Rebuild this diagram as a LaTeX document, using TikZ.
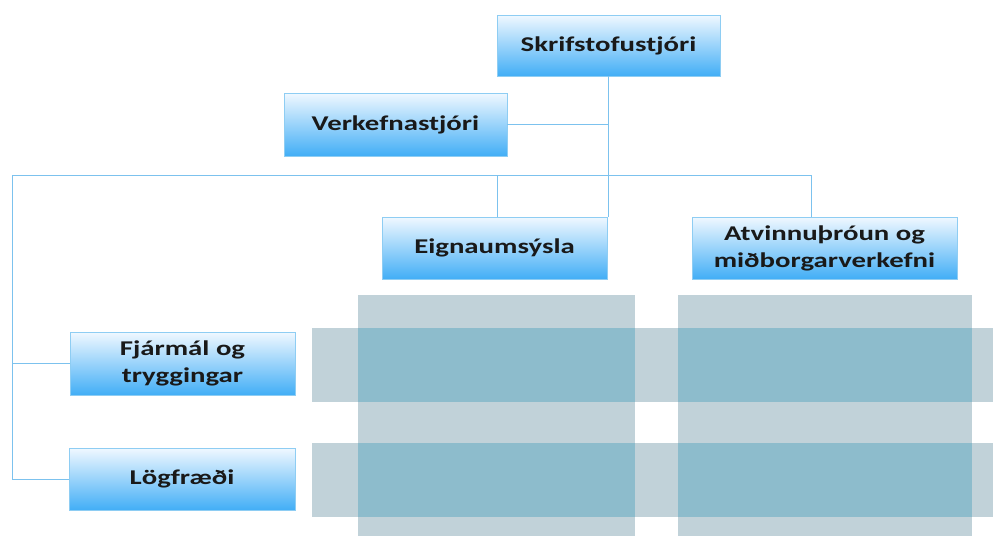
\documentclass[tikz,border=0pt]{standalone}
\usepackage{fontspec}
\setmainfont{Carlito}[FakeStretch=1.37]
\definecolor{boxtop}{HTML}{F0F8FF}
\definecolor{boxbot}{HTML}{42AEF6}
\definecolor{boxline}{HTML}{8ECDF3}
\definecolor{connc}{HTML}{7CC2EE}
\definecolor{lightgrid}{HTML}{C1D2D9}
\definecolor{darkgrid}{HTML}{8DBCCC}
\tikzset{
  box/.style={draw=boxline, line width=0.8pt, top color=boxtop, bottom color=boxbot,
    font=\bfseries\fontsize{21}{27}\selectfont, text=black!90, align=center, inner sep=2pt},
  conn/.style={draw=connc, line width=1pt},
}
\begin{document}
\begin{tikzpicture}[x=1pt,y=-1pt]
\useasboundingbox (0,0) rectangle (993,536);
% background blurred grid
\fill[lightgrid] (358,295) rectangle (635,536);
\fill[lightgrid] (678,295) rectangle (972,536);
\fill[lightgrid] (312,328) rectangle (993,402);
\fill[lightgrid] (312,443) rectangle (993,517);
\fill[darkgrid] (358,328) rectangle (635,402);
\fill[darkgrid] (678,328) rectangle (972,402);
\fill[darkgrid] (358,443) rectangle (635,517);
\fill[darkgrid] (678,443) rectangle (972,517);
% nodes
\node[box, minimum width=223pt, minimum height=61pt] (sk) at (608.5,45.5) {Skrifstofustjóri};
\node[box, minimum width=223pt, minimum height=63pt] (verk) at (395.5,124.5) {Verkefnastjóri};
\node[box, minimum width=225pt, minimum height=62pt] (eign) at (494.5,248) {Eignaumsýsla};
\node[box, minimum width=265pt, minimum height=62pt] (atv) at (824.5,248) {Atvinnuþróun og\\miðborgarverkefni};
\node[box, minimum width=225pt, minimum height=63pt] (fj) at (182.5,363.5) {Fjármál og\\tryggingar};
\node[box, minimum width=226pt, minimum height=62pt] (log) at (182,479) {Lögfræði};
% connectors
\coordinate (busL) at (12,175);
\coordinate (busR) at (811,175);
\draw[conn] (sk.south) -- (sk.south |- eign.north);
\draw[conn] (verk.east) -- (verk.east -| sk.south);
\draw[conn] (busL) -- (busR);
\draw[conn] (busR) -- (busR |- atv.north);
\coordinate (eT) at ([xshift=2.5pt]eign.north);
\draw[conn] (eT) -- (eT |- busL);
\draw[conn] (busL) -- (busL |- log.west) -- (log.west);
\draw[conn] (busL |- fj.west) -- (fj.west);
\end{tikzpicture}
\end{document}
